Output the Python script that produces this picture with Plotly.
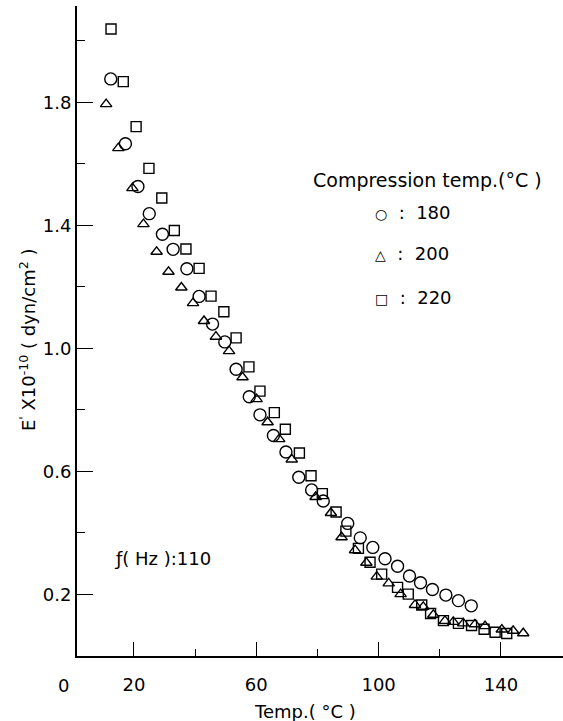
import plotly.graph_objects as go

# Compression temp. 180 °C (circles)
t180 = [12.4, 17.2, 21.3, 25.0, 29.3, 32.8, 37.3, 41.3, 45.7, 49.7, 53.4, 57.7, 61.2, 65.6,
        69.7, 73.9, 78.1, 81.9, 89.9, 94.0, 98.1, 102.1, 106.2, 110.1, 113.7, 117.6, 122.0,
        126.1, 130.3]
e180 = [1.876, 1.665, 1.526, 1.438, 1.371, 1.322, 1.259, 1.169, 1.079, 1.021, 0.932, 0.843,
        0.784, 0.717, 0.663, 0.581, 0.540, 0.504, 0.431, 0.384, 0.353, 0.316, 0.292, 0.260,
        0.238, 0.216, 0.198, 0.180, 0.163]

# Compression temp. 200 °C (triangles)
t200 = [10.9, 14.9, 19.5, 23.1, 27.4, 31.3, 35.5, 39.3, 42.9, 46.8, 51.1, 55.5, 60.1, 63.7,
        67.5, 71.6, 79.4, 84.4, 87.9, 92.3, 96.0, 99.4, 103.3, 107.2, 111.9, 114.6, 117.9,
        121.7, 124.4, 127.7, 131.5, 134.8, 140.3, 144.0, 147.3]
e200 = [1.794, 1.651, 1.521, 1.404, 1.314, 1.249, 1.198, 1.147, 1.089, 1.038, 0.991, 0.906,
        0.835, 0.760, 0.705, 0.639, 0.517, 0.465, 0.386, 0.344, 0.303, 0.258, 0.236, 0.201,
        0.166, 0.160, 0.134, 0.114, 0.111, 0.106, 0.103, 0.097, 0.086, 0.082, 0.074]

# Compression temp. 220 °C (squares)
t220 = [12.5, 16.5, 20.7, 24.9, 29.1, 33.2, 37.0, 41.3, 45.2, 49.4, 53.4, 57.6, 61.2, 65.9,
        69.5, 74.1, 77.9, 81.6, 86.1, 89.3, 93.4, 97.2, 101.0, 106.2, 109.7, 114.1, 117.0,
        121.2, 126.1, 130.4, 134.5, 138.1, 141.9]
e220 = [2.038, 1.867, 1.721, 1.585, 1.489, 1.383, 1.323, 1.260, 1.170, 1.119, 1.034, 0.940,
        0.861, 0.791, 0.737, 0.660, 0.586, 0.528, 0.468, 0.406, 0.350, 0.305, 0.266, 0.223,
        0.201, 0.166, 0.138, 0.115, 0.106, 0.099, 0.087, 0.077, 0.073]

x_major = [20, 60, 100, 140]
x_minor = [40, 80, 120]
y_major = [0.2, 0.6, 1.0, 1.4, 1.8]
y_minor = [0.4, 0.8, 1.2, 1.6, 2.0]
x_labels = ["20", "60", "100", "140"]
y_labels = ["0.2", "0.6", "1.0", "1.4", "1.8"]

FONT = "DejaVu Sans"
FS = 18
series = [
    (t180, e180, "circle-open", 12, "180"),
    (t200, e200, "triangle-up-open", 10, "200"),
    (t220, e220, "square-open", 10, "220"),
]

fig = go.Figure()
for t, e, sym, size, name in series:
    fig.add_trace(go.Scatter(
        x=t, y=e, mode="markers", name=name, showlegend=False,
        marker=dict(symbol=sym, size=size, color="black", line=dict(width=1.4, color="black")),
    ))

fig.update_layout(
    width=563, height=721,
    margin=dict(l=77, r=0, t=6, b=65, pad=0),
    plot_bgcolor="white", paper_bgcolor="white",
    font=dict(family=FONT, size=FS, color="black"),
    xaxis=dict(
        range=[1.37, 160.3], showgrid=False, zeroline=False,
        showline=True, linecolor="black", linewidth=2,
        tickmode="array", tickvals=x_major, ticktext=x_labels,
        ticks="inside", ticklen=14, tickwidth=1.3, tickcolor="black",
        ticklabelstandoff=11,
        minor=dict(tickmode="array", tickvals=x_minor, ticks="inside", ticklen=7,
                   tickwidth=1.3, tickcolor="black", showgrid=False),
        tickfont=dict(family=FONT, size=FS),
    ),
    yaxis=dict(
        range=[0, 2.113], showgrid=False, zeroline=False,
        showline=True, linecolor="black", linewidth=2,
        tickmode="array", tickvals=y_major, ticktext=y_labels,
        ticks="inside", ticklen=16, tickwidth=1.3, tickcolor="black",
        ticklabelstandoff=0,
        minor=dict(tickmode="array", tickvals=y_minor, ticks="inside", ticklen=8,
                   tickwidth=1.3, tickcolor="black", showgrid=False),
        tickfont=dict(family=FONT, size=FS),
    ),
)

ann = []
ann.append(dict(text="0", xref="paper", yref="paper", x=0, y=0, xanchor="right",
                yanchor="top", yshift=-17, xshift=-6, showarrow=False, font=dict(size=FS)))
ann.append(dict(text="Temp.( °C )", xref="paper", yref="paper", x=0.469, y=0, xanchor="center",
                yanchor="middle", yshift=-55, showarrow=False, font=dict(size=FS)))
ann.append(dict(text="E<sup>'</sup> X10<sup>-10</sup> ( dyn/cm<sup>2</sup> )", xref="paper",
                yref="paper", x=0, y=0.486, xanchor="center", yanchor="middle", xshift=-49,
                textangle=-90, showarrow=False, font=dict(size=FS)))
ann.append(dict(text="Compression temp.(°C )", xref="paper", yref="paper", x=0.482, y=0.733,
                xanchor="left", yanchor="middle", showarrow=False, font=dict(size=19)))
legend_rows = [("○", "180", 0.683), ("△", "200", 0.619), ("□", "220", 0.552)]
for sym, lab, yy in legend_rows:
    ann.append(dict(text=f"<span style='font-size:14px'>{sym}</span>  :  {lab}", xref="paper",
                    yref="paper", x=0.609, y=yy, xanchor="left", yanchor="middle",
                    showarrow=False, font=dict(size=FS)))
ann.append(dict(text="ƒ( Hz ):110", xref="paper", yref="paper", x=0.072, y=0.150,
                xanchor="left", yanchor="middle", showarrow=False, font=dict(size=FS)))
fig.update_layout(annotations=ann)

fig.write_html("out.html", config={"displayModeBar": False},
               post_script="document.body.style.margin='0';")
